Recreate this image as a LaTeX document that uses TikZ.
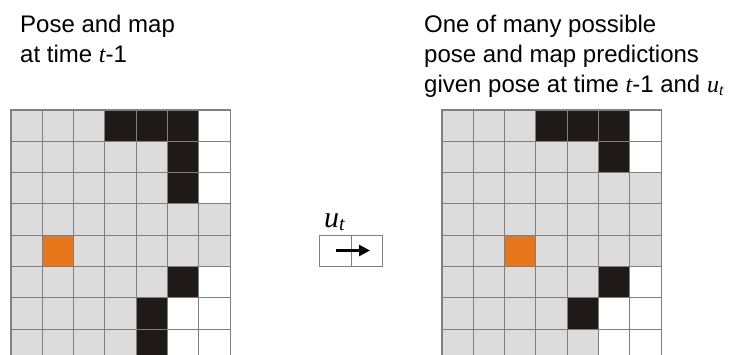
\documentclass[tikz,border=0pt]{standalone}
\usepackage{fontspec}
\setmainfont{Liberation Sans}
\newfontfamily\tmsfont{Liberation Serif}
\newcommand{\itv}[1]{{\tmsfont\itshape #1}}
\usetikzlibrary{arrows.meta}
\definecolor{cg}{HTML}{DCDCDC}
\definecolor{ck}{HTML}{1F1A17}
\definecolor{co}{HTML}{E8771C}
\colorlet{cw}{white}
\definecolor{gridline}{HTML}{7F7F7F}
\tikzset{
  txt/.style={anchor=base west, inner sep=0pt, font=\fontsize{24}{30}\selectfont},
  cellbox/.style={draw=gridline, line width=1.1pt},
  actcell/.style={draw=gridline, line width=1pt, minimum width=31.5pt, minimum height=31pt, inner sep=0pt},
}
\begin{document}
\begin{tikzpicture}[x=1pt,y=-1pt]
\useasboundingbox (0,0) rectangle (732,355);

% texts
\node[txt] (l1) at (20,33) {Pose and map};
\node[txt] (l2) at (20,63) {at time \itv{t}-1};
\node[txt] (r1) at (424,33) {One of many possible};
\node[txt] (r2) at (424,63) {pose and map predictions};
\node[txt] (r3) at (424,93) {given pose at time \itv{t}-1 and \itv{u}\raisebox{-3pt}{\fontsize{16}{16}\selectfont\itv{t}}};

\def\cs{31.3}
\begin{scope}
\clip (0,0) rectangle (732,355);
% left grid
\foreach \r/\row in {0/{cg,cg,cg,ck,ck,ck,cw},1/{cg,cg,cg,cg,cg,ck,cw},2/{cg,cg,cg,cg,cg,ck,cw},3/{cg,cg,cg,cg,cg,cg,cg},4/{cg,co,cg,cg,cg,cg,cg},5/{cg,cg,cg,cg,cg,ck,cw},6/{cg,cg,cg,cg,ck,cw,cw},7/{cg,cg,cg,cg,ck,cw,cw}}{
  \foreach \k [count=\c from 0] in \row {
    \filldraw[cellbox, fill=\k] ({11+\c*\cs},{110+\r*\cs}) rectangle ++(\cs,\cs);
  }
}
% right grid
\foreach \r/\row in {0/{cg,cg,cg,ck,ck,ck,cw},1/{cg,cg,cg,cg,cg,ck,cw},2/{cg,cg,cg,cg,cg,cg,cg},3/{cg,cg,cg,cg,cg,cg,cg},4/{cg,cg,co,cg,cg,cg,cg},5/{cg,cg,cg,cg,cg,ck,cw},6/{cg,cg,cg,cg,ck,cw,cw},7/{cg,cg,cg,cg,cg,cw,cw}}{
  \foreach \k [count=\c from 0] in \row {
    \filldraw[cellbox, fill=\k] ({442+\c*\cs},{110+\r*\cs}) rectangle ++(\cs,\cs);
  }
}
\end{scope}

% action
\node[anchor=base west, inner sep=0pt] (ut) at (324,228) {\fontsize{30}{30}\selectfont\itv{u}\raisebox{-3pt}{\fontsize{20}{20}\selectfont\itv{t}}};
\node[actcell] (a1) at (335.25,251.5) {};
\node[actcell] (a2) at (366.75,251.5) {};
\coordinate (as) at (336,250.5);
\coordinate (ae) at (370,250.5);
\draw[line width=2.6pt, -{Triangle[length=11pt,width=11pt]}] (as) -- (ae);
\end{tikzpicture}
\end{document}
